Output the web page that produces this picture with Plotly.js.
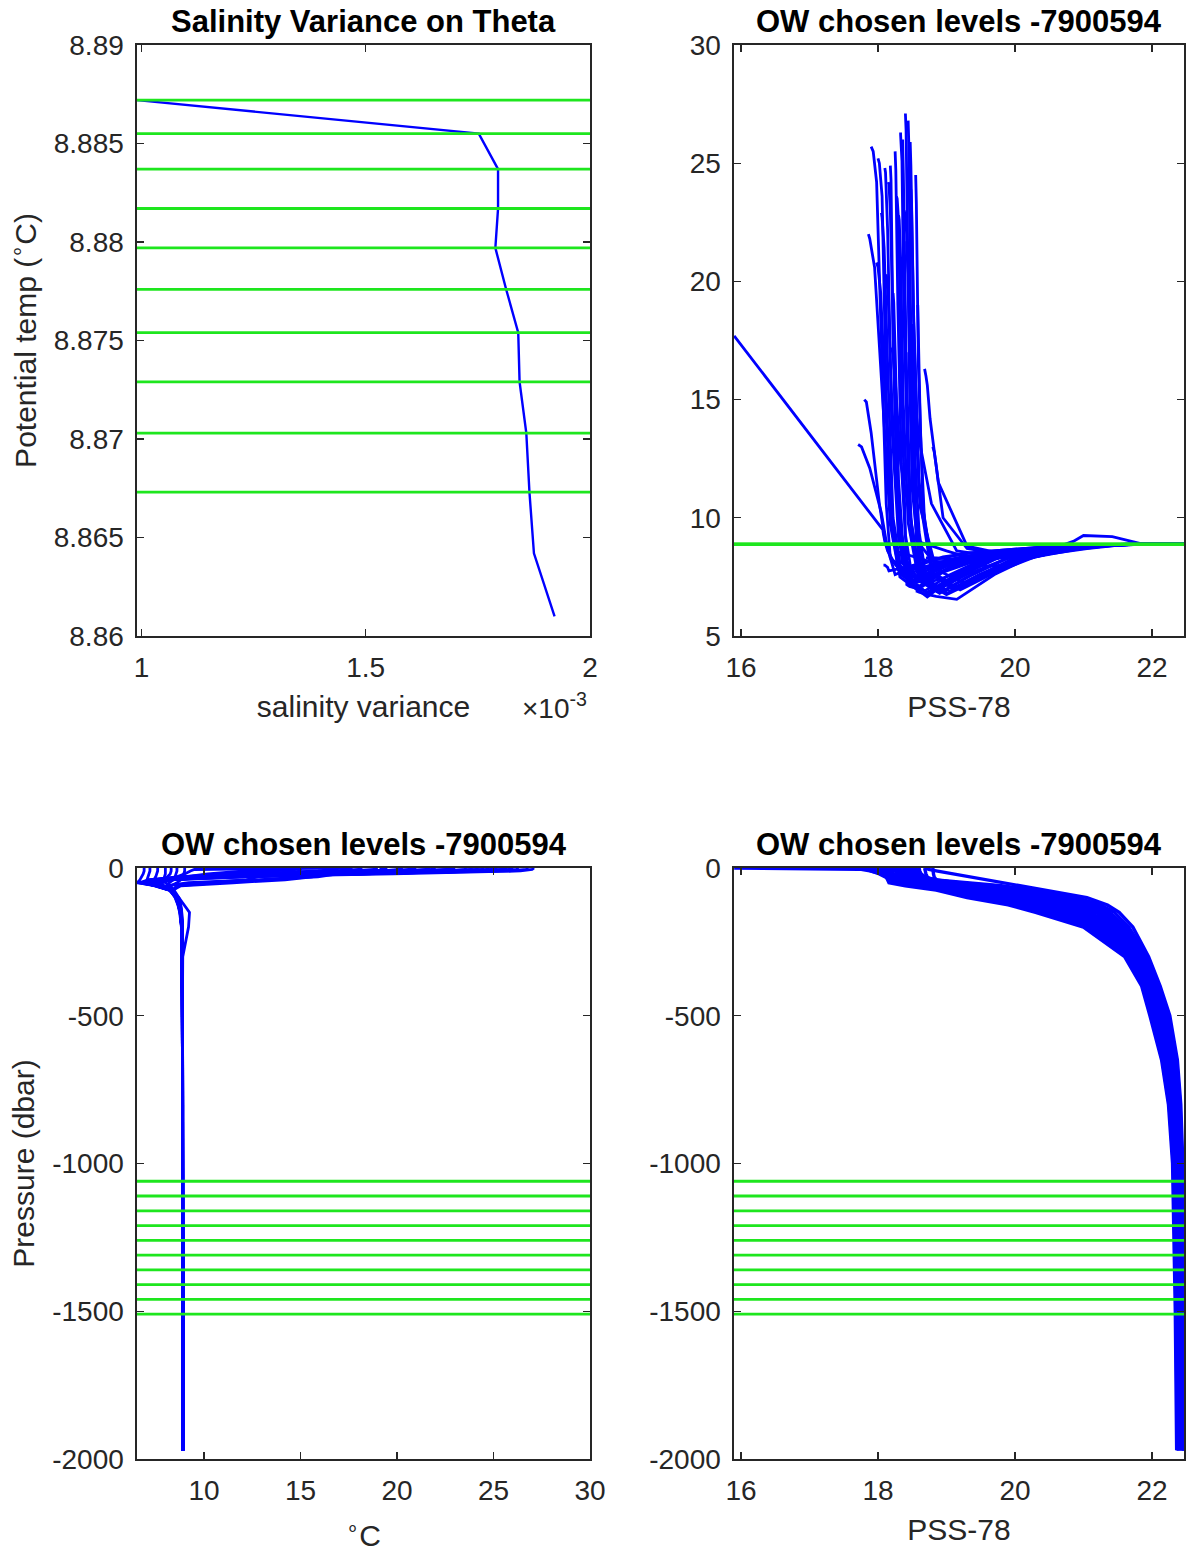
<!DOCTYPE html>
<html>
<head>
<meta charset="utf-8">
<script src="https://cdn.plot.ly/plotly-3.0.1.min.js"></script>
<style>
html,body{margin:0;padding:0;background:#ffffff;}
#chart{width:1186px;height:1553px;}
</style>
</head>
<body>
<div id="chart"></div>
<script>
// ---------- Panel 1: salinity variance on theta levels ----------
const thetaGrid = [8.8872, 8.8855, 8.8837, 8.8817, 8.8797, 8.8776, 8.8754, 8.8729, 8.8703, 8.8673, 8.8642, 8.8610];
const salinityVariance = [0.990e-3, 1.752e-3, 1.795e-3, 1.795e-3, 1.789e-3, 1.813e-3, 1.840e-3, 1.843e-3, 1.858e-3, 1.865e-3, 1.875e-3, 1.921e-3];

// ---------- OW chosen levels ----------
const chosenTheta = [8.8872, 8.8855, 8.8837, 8.8817, 8.8797, 8.8776, 8.8754, 8.8729, 8.8703, 8.8673];
const chosenPressure = [1060, 1110, 1160, 1210, 1260, 1310, 1360, 1410, 1460, 1510];

// ---------- Float 7900594 profiles (pressure in dbar) ----------
const pressureLevels = [0, 5, 10, 20, 30, 40, 50, 60, 75, 100, 125, 150, 200, 300, 400, 500, 650, 800, 1000, 1500, 1970];

const tempProfiles = [
  [27.1,27.0,26.4,19.8,11.2,7.6,7.0,7.6,8.3,8.6,8.72,8.8,8.86,8.88,8.88,8.89,8.89,8.89,8.9,8.9,8.91],
  [26.8,26.7,25.8,17.5,10.0,7.3,6.9,7.5,8.25,8.62,8.74,8.82,8.87,8.88,8.88,8.89,8.89,8.89,8.9,8.9,8.91],
  [25.7,25.5,24.2,16.8,10.6,8.3,7.6,7.9,8.35,8.55,8.68,8.76,8.84,8.87,8.88,8.88,8.89,8.89,8.89,8.9,8.9],
  [25.2,25.0,23.6,15.2,9.6,7.5,7.0,7.6,8.3,8.58,8.7,8.78,8.85,8.87,8.88,8.88,8.89,8.89,8.9,8.9,8.9],
  [24.8,24.6,22.2,14.0,9.1,7.2,6.8,7.5,8.25,8.6,8.72,8.8,8.86,8.88,8.88,8.89,8.89,8.89,8.9,8.9,8.91],
  [26.3,26.2,25.1,18.2,10.3,7.4,6.75,7.45,8.2,8.62,8.75,8.83,8.87,8.88,8.89,8.89,8.89,8.9,8.9,8.9,8.91],
  [23.6,23.5,22.6,16.1,9.3,7.1,6.65,7.4,8.2,8.55,8.7,8.78,8.85,8.87,8.88,8.88,8.89,8.89,8.9,8.9,8.9],
  [22.0,21.8,20.6,14.6,9.7,7.8,7.2,7.7,8.3,8.56,8.69,8.77,8.85,8.87,8.88,8.88,8.89,8.89,8.89,8.9,8.9],
  [24.9,24.9,24.3,17.6,10.8,8.0,7.2,7.6,8.28,8.6,8.73,8.81,8.86,8.88,8.88,8.89,8.89,8.89,8.9,8.9,8.91],
  [21.0,20.6,18.9,13.1,9.0,7.3,6.9,7.55,8.3,8.63,8.75,8.82,8.87,8.88,8.88,8.89,8.89,8.89,8.9,8.9,8.91],
  [19.5,19.1,17.1,11.6,8.6,7.2,6.85,7.5,8.27,8.58,8.71,8.79,8.85,8.87,8.88,8.88,8.89,8.89,8.9,8.9,8.9],
  [25.9,25.8,24.9,18.6,11.5,7.7,6.95,7.6,8.3,8.65,8.77,8.84,8.88,8.88,8.89,8.89,8.89,8.9,8.9,8.9,8.91],
  [20.3,20.1,19.2,15.8,11.9,8.1,7.3,7.7,8.3,8.57,8.7,8.78,8.85,8.87,8.88,8.88,8.89,8.89,8.89,8.9,8.9],
  [23.0,22.9,22.0,16.5,10.4,7.8,7.2,7.8,8.35,8.66,8.78,8.84,8.88,8.88,8.89,8.89,8.9,8.9,8.9,8.9,8.91],
  [18.2,18.0,16.8,12.5,9.4,7.5,7.0,7.6,8.27,8.6,8.72,8.8,8.86,8.88,8.88,8.89,8.89,8.89,8.9,8.9,8.91],
  [24.2,24.1,23.0,16.9,10.1,7.5,6.9,7.55,8.27,8.59,8.72,8.8,8.86,8.87,8.88,8.89,8.89,8.89,8.9,8.9,8.91],
  [21.7,21.5,20.3,15.0,9.9,7.4,6.8,7.5,8.25,8.62,8.75,8.82,8.87,8.88,8.88,8.89,8.89,8.9,8.9,8.9,8.91],
  [25.5,25.4,24.7,19.0,12.3,8.2,7.3,7.7,8.3,8.57,8.7,8.78,8.85,8.87,8.88,8.88,8.89,8.89,8.89,8.9,8.9],
  [22.9,22.7,21.4,15.6,10.0,7.9,7.3,7.75,8.3,8.55,8.68,8.77,8.84,8.87,8.88,8.88,8.89,8.89,8.89,8.9,8.9],
  [19.0,18.8,17.6,13.6,9.8,7.6,7.0,7.6,8.28,8.62,8.74,8.82,8.87,8.88,8.88,8.89,8.89,8.89,8.9,8.9,8.91],
  [26.0,25.9,24.6,17.0,9.6,7.3,6.8,7.5,8.25,8.6,8.73,8.81,8.86,8.88,8.88,8.89,8.89,8.89,8.9,8.9,8.91],
  [17.0,16.8,15.9,12.2,9.2,7.4,6.9,7.55,8.27,8.6,8.72,8.8,8.86,8.88,8.88,8.89,8.89,8.89,8.9,8.9,8.91],
  [23.9,23.8,23.1,18.3,11.0,7.7,7.0,7.6,8.3,8.64,8.76,8.83,8.88,8.88,8.89,8.89,8.89,8.9,8.9,8.9,8.91],
  [20.8,20.6,19.5,14.2,9.9,7.8,7.2,7.7,8.3,8.56,8.69,8.77,8.85,8.87,8.88,8.88,8.89,8.89,8.89,8.9,8.9],
  [24.5,24.4,23.3,16.4,10.3,7.6,7.0,7.6,8.28,8.62,8.74,8.82,8.87,8.88,8.88,8.89,8.89,8.89,8.9,8.9,8.91],
  [16.3,16.3,16.2,16.0,15.6,14.2,11.5,8.8,8.4,8.64,8.76,8.83,8.87,8.88,8.89,8.89,8.89,8.9,8.9,8.9,8.91],
  [15.0,15.0,14.9,14.8,14.6,13.3,10.6,8.6,8.35,8.6,8.73,8.81,8.86,8.88,8.88,8.89,8.89,8.89,8.9,8.9,8.91],
  [17.2,17.2,17.1,16.9,15.9,12.3,9.2,8.1,8.3,8.56,8.69,8.77,8.85,8.87,8.88,8.88,8.89,8.89,8.89,8.9,8.9],
  [13.0,13.0,13.0,12.9,12.8,12.2,10.0,8.7,8.4,8.62,8.75,8.82,8.87,8.88,8.88,8.89,8.89,8.89,8.9,8.9,8.91],
  [8.3,8.3,8.3,8.25,8.1,7.95,8.0,8.2,8.45,8.7,8.8,8.85,8.88,8.88,8.89,8.89,8.9,8.9,8.9,8.9,8.91],
  [7.2,7.2,7.2,7.15,7.1,7.05,7.1,7.7,8.25,8.55,8.7,8.78,8.85,8.87,8.88,8.88,8.89,8.89,8.89,8.9,8.9],
  [6.9,6.9,6.9,6.85,6.78,6.68,6.55,7.6,8.3,8.62,8.74,8.81,8.86,8.88,8.88,8.89,8.89,8.89,8.9,8.9,8.91],
  [8.0,8.0,8.0,8.0,7.95,7.9,7.75,7.9,8.25,8.5,8.65,8.74,8.83,8.86,8.87,8.88,8.88,8.89,8.89,8.9,8.9],
  [7.6,7.6,7.6,7.55,7.5,7.4,7.3,7.75,8.25,8.52,8.67,8.76,8.84,8.87,8.88,8.88,8.89,8.89,8.89,8.9,8.9],
  [8.6,8.6,8.6,8.55,8.5,8.4,8.2,8.1,8.3,8.6,8.72,8.8,8.86,8.88,8.88,8.89,8.89,8.89,8.9,8.9,8.91],
  [9.0,9.0,9.0,8.95,8.9,8.8,8.6,8.3,8.35,8.62,8.74,8.81,8.86,8.88,8.88,8.89,8.89,8.89,8.9,8.9,8.91],
  [17.7,9.5,9.3,9.0,8.6,8.2,7.8,7.9,8.3,8.58,8.71,8.79,8.85,8.87,8.88,8.88,8.89,8.89,8.9,8.9,8.9],
  [15.0,14.9,13.6,10.6,9.1,8.3,7.7,7.9,8.3,8.57,8.7,8.78,8.85,8.87,8.88,8.88,8.89,8.89,8.89,8.9,8.9],
  [13.1,13.0,12.1,10.2,9.0,8.2,7.6,7.85,8.28,8.56,8.7,8.78,8.85,8.87,8.88,8.88,8.89,8.89,8.89,8.9,8.9],
  [22.8,22.6,21.0,14.8,9.8,7.6,7.0,7.6,8.3,8.7,9.0,9.25,9.2,8.9,8.89,8.89,8.89,8.9,8.9,8.9,8.91]
];

const salProfiles = [
  [18.40,18.40,18.41,18.44,18.50,18.62,18.90,19.25,19.75,20.35,20.8,21.05,21.42,21.82,22.02,22.15,22.28,22.35,22.40,22.43,22.45],
  [18.44,18.44,18.45,18.48,18.55,18.7,19.05,19.45,19.95,20.55,20.95,21.2,21.5,21.86,22.05,22.18,22.3,22.37,22.41,22.44,22.46],
  [17.90,17.93,17.98,18.06,18.12,18.18,18.25,18.5,18.95,19.45,20.0,20.4,21.05,21.62,21.87,21.99,22.15,22.25,22.31,22.35,22.37],
  [18.00,18.02,18.06,18.12,18.2,18.32,18.55,18.85,19.3,19.85,20.3,20.65,21.2,21.7,21.92,22.04,22.19,22.28,22.34,22.37,22.39],
  [18.10,18.11,18.14,18.2,18.3,18.45,18.75,19.15,19.7,20.25,20.65,20.92,21.36,21.78,21.98,22.12,22.26,22.33,22.38,22.41,22.43],
  [18.33,18.33,18.35,18.38,18.46,18.62,19.0,19.5,20.05,20.7,21.1,21.32,21.58,21.9,22.08,22.21,22.33,22.39,22.43,22.46,22.48],
  [18.27,18.28,18.3,18.34,18.4,18.52,18.72,19.05,19.55,20.1,20.5,20.8,21.28,21.74,21.95,22.09,22.23,22.31,22.36,22.39,22.41],
  [17.86,17.88,17.95,18.08,18.18,18.3,18.48,18.75,19.2,19.75,20.2,20.55,21.15,21.68,21.9,22.02,22.17,22.26,22.32,22.36,22.38],
  [18.18,18.18,18.19,18.22,18.28,18.4,18.68,19.1,19.72,20.3,20.7,20.98,21.4,21.8,22.0,22.14,22.27,22.34,22.39,22.42,22.44],
  [18.36,18.37,18.39,18.43,18.5,18.64,18.95,19.35,19.9,20.5,20.92,21.18,21.5,21.85,22.04,22.17,22.29,22.36,22.41,22.44,22.46],
  [18.22,18.23,18.25,18.3,18.37,18.5,18.72,19.08,19.6,20.18,20.58,20.86,21.32,21.76,21.97,22.1,22.24,22.32,22.37,22.4,22.42],
  [18.47,18.47,18.48,18.52,18.6,18.8,19.2,19.65,20.2,20.8,21.18,21.38,21.62,21.92,22.1,22.23,22.35,22.4,22.44,22.47,22.49],
  [18.12,18.13,18.15,18.19,18.25,18.35,18.58,18.9,19.45,20.0,20.45,20.75,21.25,21.72,21.94,22.07,22.21,22.3,22.35,22.38,22.4],
  [18.38,18.39,18.42,18.5,18.62,18.85,19.3,19.8,20.3,20.9,21.25,21.45,21.66,21.93,22.11,22.24,22.36,22.41,22.44,22.47,22.5],
  [18.50,18.5,18.51,18.54,18.6,18.7,18.9,19.2,19.7,20.25,20.66,20.93,21.37,21.79,21.99,22.13,22.26,22.34,22.39,22.42,22.44],
  [18.15,18.16,18.18,18.23,18.3,18.44,18.68,19.02,19.55,20.15,20.55,20.85,21.3,21.75,21.96,22.1,22.24,22.32,22.37,22.4,22.42],
  [18.42,18.42,18.44,18.47,18.55,18.7,19.02,19.45,20.0,20.62,21.02,21.26,21.55,21.88,22.07,22.2,22.32,22.38,22.42,22.45,22.47],
  [18.25,18.25,18.26,18.29,18.34,18.42,18.6,18.92,19.42,19.98,20.42,20.74,21.24,21.72,21.94,22.06,22.21,22.3,22.35,22.38,22.4],
  [18.05,18.06,18.09,18.15,18.22,18.33,18.5,18.78,19.22,19.78,20.22,20.58,21.16,21.68,21.9,22.02,22.17,22.27,22.32,22.36,22.38],
  [18.58,18.58,18.59,18.62,18.68,18.8,19.08,19.48,20.02,20.6,21.0,21.24,21.54,21.87,22.06,22.19,22.31,22.37,22.41,22.45,22.47],
  [18.36,18.36,18.37,18.41,18.48,18.62,18.9,19.3,19.85,20.42,20.85,21.1,21.45,21.84,22.03,22.16,22.29,22.36,22.4,22.44,22.46],
  [18.45,18.45,18.46,18.5,18.56,18.66,18.86,19.18,19.7,20.26,20.66,20.93,21.36,21.78,21.99,22.12,22.25,22.33,22.38,22.41,22.43],
  [18.48,18.48,18.49,18.52,18.6,18.78,19.12,19.58,20.12,20.72,21.12,21.34,21.6,21.91,22.09,22.22,22.34,22.39,22.43,22.46,22.48],
  [17.98,18.0,18.04,18.12,18.2,18.3,18.5,18.8,19.3,19.9,20.35,20.68,21.2,21.7,21.92,22.04,22.19,22.28,22.34,22.37,22.39],
  [18.55,18.55,18.56,18.59,18.66,18.8,19.1,19.5,20.02,20.6,21.0,21.22,21.52,21.86,22.05,22.18,22.3,22.37,22.41,22.44,22.46],
  [18.68,18.68,18.69,18.7,18.72,18.76,18.88,19.3,19.95,20.6,21.02,21.28,21.55,21.88,22.06,22.2,22.32,22.38,22.42,22.45,22.47],
  [18.52,18.52,18.52,18.53,18.55,18.6,18.78,19.15,19.75,20.4,20.82,21.08,21.44,21.83,22.03,22.16,22.28,22.35,22.4,22.43,22.45],
  [18.20,18.2,18.21,18.22,18.25,18.33,18.52,18.82,19.35,19.92,20.38,20.7,21.22,21.71,21.93,22.05,22.2,22.29,22.34,22.37,22.39],
  [18.80,18.8,18.8,18.81,18.82,18.85,18.95,19.3,19.9,20.52,20.97,21.22,21.52,21.86,22.05,22.18,22.3,22.37,22.41,22.44,22.46],
  [18.70,18.74,18.85,19.1,19.35,19.6,19.85,20.1,20.45,21.05,21.35,21.52,21.72,21.95,22.12,22.26,22.37,22.42,22.45,22.48,22.5],
  [18.40,18.4,18.41,18.43,18.46,18.52,18.65,18.95,19.5,20.08,20.5,20.8,21.28,21.74,21.95,22.08,22.22,22.31,22.36,22.39,22.41],
  [18.55,18.55,18.56,18.6,18.68,18.85,19.15,19.7,20.2,20.75,21.1,21.3,21.56,21.88,22.06,22.19,22.31,22.38,22.42,22.45,22.47],
  [18.08,18.08,18.09,18.1,18.12,18.14,18.16,18.4,18.85,19.3,19.9,20.3,21.0,21.6,21.85,21.97,22.14,22.24,22.3,22.34,22.36],
  [18.32,18.32,18.33,18.35,18.38,18.42,18.5,18.7,19.1,19.6,20.1,20.45,21.1,21.65,21.88,22.01,22.16,22.26,22.32,22.36,22.38],
  [18.26,18.26,18.27,18.3,18.36,18.46,18.7,19.05,19.65,20.22,20.62,20.9,21.34,21.78,21.98,22.12,22.25,22.33,22.38,22.41,22.43],
  [18.60,18.6,18.61,18.63,18.68,18.78,19.0,19.35,19.85,20.4,20.8,21.06,21.44,21.82,22.02,22.15,22.28,22.35,22.4,22.43,22.45],
  [15.90,18.07,18.08,18.1,18.14,18.22,18.4,18.7,19.2,19.8,20.3,20.65,21.2,21.7,21.92,22.05,22.2,22.29,22.34,22.38,22.4],
  [17.80,17.83,17.9,18.02,18.1,18.18,18.35,18.65,19.15,19.7,20.2,20.55,21.15,21.68,21.9,22.03,22.18,22.27,22.33,22.37,22.39],
  [17.71,17.76,17.88,18.05,18.12,18.2,18.38,18.7,19.25,19.82,20.3,20.62,21.18,21.7,21.91,22.04,22.19,22.28,22.33,22.37,22.39],
  [18.30,18.31,18.33,18.37,18.44,18.58,18.9,19.3,19.9,20.55,20.85,21.0,21.42,21.85,22.04,22.17,22.29,22.36,22.41,22.44,22.46]
];

// ---------- Tick labels ----------
const varTickVals = [1e-3, 1.5e-3, 2e-3];
const varTickText = ['1', '1.5', '2'];
const thetaTickVals = [8.86, 8.865, 8.87, 8.875, 8.88, 8.885, 8.89];
const thetaTickText = ['8.86', '8.865', '8.87', '8.875', '8.88', '8.885', '8.89'];
const tsTempTicks = [5, 10, 15, 20, 25, 30];
const salTicks = [16, 18, 20, 22];
const tempTicks = [10, 15, 20, 25, 30];
const presTickVals = [-2000, -1500, -1000, -500, 0];
const presTickText = ['-2000', '-1500', '-1000', '-500', '0'];
const panelTitles = ['Salinity Variance on Theta', 'OW chosen levels -7900594', 'OW chosen levels -7900594', 'OW chosen levels -7900594'];

// ---------- Styling ----------
const FONT = 'Liberation Sans, Arial, Helvetica, sans-serif';
const AXC = '#262626';
const BLUE = '#0000ff';
const GREEN = '#1ee61e';
const TICKF = {family: FONT, size: 28, color: AXC};
const LABF = {family: FONT, size: 30, color: AXC};
const PW = 2.8;

function axisBase(extra) {
  return Object.assign({
    showline: true, linecolor: AXC, linewidth: 1.6, mirror: 'ticks',
    ticks: 'inside', ticklen: 7, tickwidth: 1.4, tickcolor: AXC,
    showgrid: false, zeroline: false, tickfont: TICKF, ticklabelstandoff: 6,
    fixedrange: true
  }, extra);
}

const traces = [];
traces.push({
  type: 'scatter', mode: 'lines', x: salinityVariance, y: thetaGrid,
  xaxis: 'x', yaxis: 'y', line: {color: BLUE, width: 2.4}, hoverinfo: 'skip'
});
const negP = pressureLevels.map(p => -p);
for (let i = 0; i < tempProfiles.length; i++) {
  const T = tempProfiles[i], S = salProfiles[i];
  traces.push({type: 'scatter', mode: 'lines', x: S, y: T, xaxis: 'x2', yaxis: 'y2',
    line: {color: BLUE, width: PW}, hoverinfo: 'skip'});
  traces.push({type: 'scatter', mode: 'lines', x: T, y: negP, xaxis: 'x3', yaxis: 'y3',
    line: {color: BLUE, width: PW}, hoverinfo: 'skip'});
  traces.push({type: 'scatter', mode: 'lines', x: S, y: negP, xaxis: 'x4', yaxis: 'y4',
    line: {color: BLUE, width: PW + 0.6}, hoverinfo: 'skip'});
}

const shapes = [];
function hline(xa, ya, yv) {
  shapes.push({type: 'line', xref: xa + ' domain', yref: ya, x0: 0, x1: 1, y0: yv, y1: yv,
    line: {color: GREEN, width: 2.8}, layer: 'above'});
}
chosenTheta.forEach(t => { hline('x', 'y', t); hline('x2', 'y2', t); });
chosenPressure.forEach(p => { hline('x3', 'y3', -p); hline('x4', 'y4', -p); });

const xL = [137/1186, 590/1186];
const xR = [734/1186, 1184/1186];
const yT = [1 - 636/1553, 1 - 45/1553];
const yB = [1 - 1459/1553, 1 - 868/1553];

const annotations = [];
const refs = [['x', 'y'], ['x2', 'y2'], ['x3', 'y3'], ['x4', 'y4']];
panelTitles.forEach((t, i) => {
  annotations.push({text: '<b>' + t + '</b>', xref: refs[i][0] + ' domain', yref: refs[i][1] + ' domain',
    x: 0.5, y: 1.039, xanchor: 'center', yanchor: 'middle', showarrow: false,
    font: {family: FONT, size: 31, color: '#000000'}});
});
annotations.push({text: '×10<sup>-3</sup>', xref: 'x domain', yref: 'y domain', x: 0.922, y: -0.118,
  xanchor: 'center', yanchor: 'middle', showarrow: false, font: {family: FONT, size: 28, color: AXC}});

const layout = {
  width: 1186, height: 1553,
  margin: {l: 0, r: 0, t: 0, b: 0},
  paper_bgcolor: '#ffffff', plot_bgcolor: '#ffffff',
  showlegend: false,
  font: {family: FONT, color: AXC},
  xaxis: axisBase({domain: xL, anchor: 'y', range: [0.99e-3, 2.0e-3], tickvals: varTickVals, ticktext: varTickText,
    title: {text: 'salinity variance', font: LABF, standoff: 14}}),
  yaxis: axisBase({domain: yT, anchor: 'x', range: [8.86, 8.89], tickvals: thetaTickVals, ticktext: thetaTickText,
    title: {text: 'Potential temp (<sup>∘</sup>C)', font: LABF, standoff: 8}}),
  xaxis2: axisBase({domain: xR, anchor: 'y2', range: [15.898, 22.467], tickvals: salTicks,
    title: {text: 'PSS-78', font: LABF, standoff: 14}}),
  yaxis2: axisBase({domain: yT, anchor: 'x2', range: [5, 30], tickvals: tsTempTicks}),
  xaxis3: axisBase({domain: xL, anchor: 'y3', range: [6.53, 30], tickvals: tempTicks,
    title: {text: '<sup>∘</sup>C', font: LABF, standoff: 20}}),
  yaxis3: axisBase({domain: yB, anchor: 'x3', range: [-2000, 0], tickvals: presTickVals, ticktext: presTickText,
    title: {text: 'Pressure (dbar)', font: LABF, standoff: 8}}),
  xaxis4: axisBase({domain: xR, anchor: 'y4', range: [15.898, 22.467], tickvals: salTicks,
    title: {text: 'PSS-78', font: LABF, standoff: 14}}),
  yaxis4: axisBase({domain: yB, anchor: 'x4', range: [-2000, 0], tickvals: presTickVals, ticktext: presTickText}),
  shapes: shapes,
  annotations: annotations
};

Plotly.newPlot('chart', traces, layout, {displayModeBar: false, staticPlot: true});
</script>
</body>
</html>
